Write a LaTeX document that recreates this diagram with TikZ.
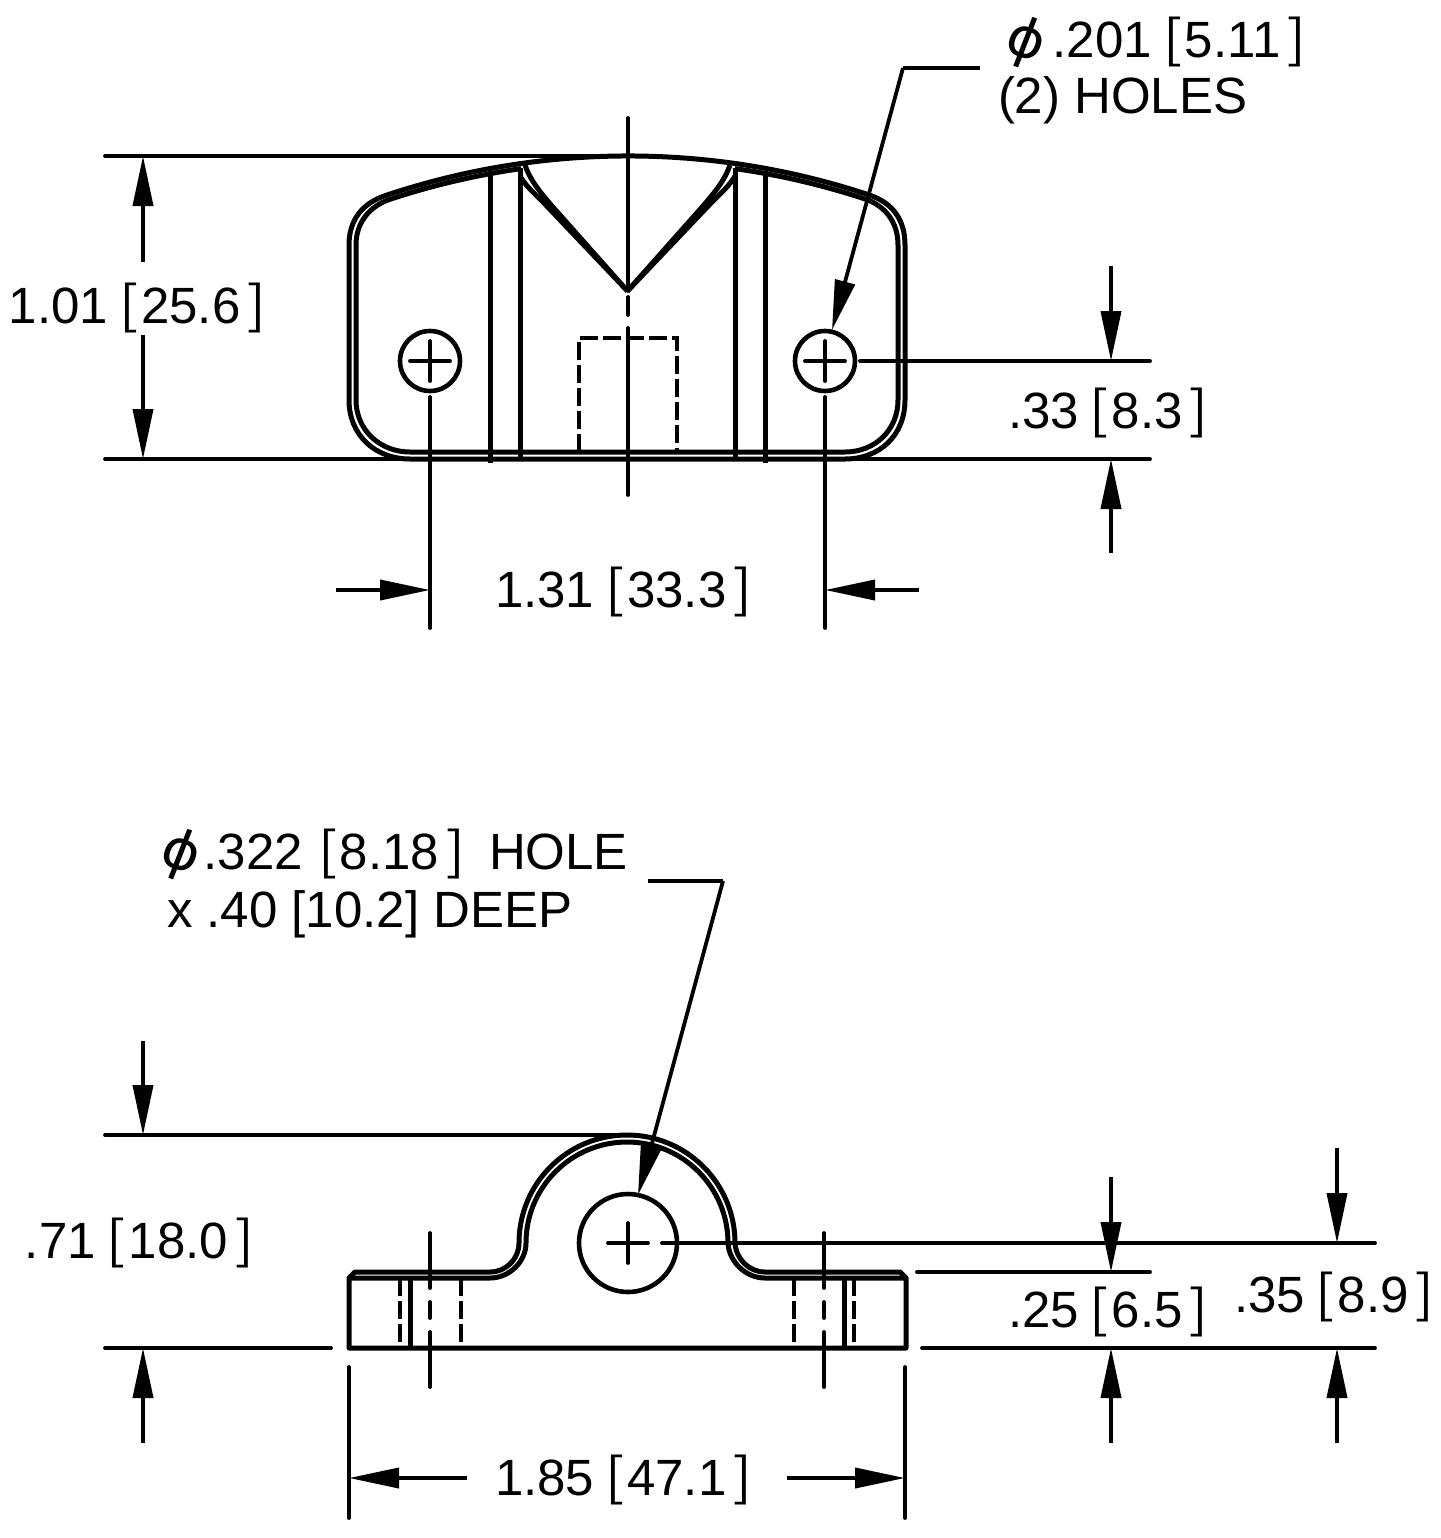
\documentclass[tikz,border=0pt]{standalone}
\usepackage{fontspec}
\usepackage{graphicx}
\setmainfont{Liberation Sans}
\newfontfamily\lmbr{Latin Modern Roman}
\newfontfamily\djv{DejaVu Sans}
\usetikzlibrary{arrows.meta}
\newcommand{\lbr}{\hspace{4pt}\raisebox{1.5pt}{\scalebox{1.4}[1]{\lmbr\bfseries\fontsize{25}{25}\selectfont[}}\hspace{1.5pt}}
\newcommand{\rbr}{\hspace{3.5pt}\raisebox{1.5pt}{\scalebox{1.4}[1]{\lmbr\bfseries\fontsize{25}{25}\selectfont]}}}
\newcommand{\dia}{\scalebox{1.2}[1.12]{\rotatebox[origin=c]{-20}{\djv\fontsize{24}{25}\selectfont ϕ}}}
\tikzset{
  px/.style={x=0.5pt,y=-0.5pt},
  thickl/.style={line width=2.5pt,line cap=butt,line join=round},
  thinl/.style={line width=1.9pt,line cap=round},
  hidden/.style={line width=2.1pt,dash pattern=on 9pt off 2.5pt},
  dimarrow/.style={line width=1.9pt,-{Triangle[length=25pt,width=10pt]}},
  lab/.style={anchor=base west,inner sep=0pt,outer sep=0pt,font=\fontsize{25.5}{30}\selectfont},
  hole/.style={circle,draw,line width=2.3pt,inner sep=0pt,minimum size=30pt},
  bighole/.style={circle,draw,line width=2.3pt,inner sep=0pt,minimum size=49pt},
}
\begin{document}
\begin{tikzpicture}[px]
\useasboundingbox (0,0) rectangle (1441,1538);
% ---------- TOP VIEW
% profile
\draw[thickl] (349,245) .. controls (349,220) and (362,203) .. (387,195)
  arc [start angle=251.6,end angle=288.4,radius=764]
  .. controls (893,203) and (905,220) .. (905,245) -- (905,400)
  .. controls (905,435) and (880,459) .. (845,459) -- (410,459)
  .. controls (375,459) and (349,435) .. (349,400) -- cycle;
\draw[thickl] (356,245) .. controls (356,222) and (370,206) .. (390,199.3)
  arc [start angle=251.73,end angle=261.9,radius=759];
\draw[thickl] (735,168.6) arc [start angle=278.1,end angle=288.27,radius=759]
  .. controls (885,206) and (898,222) .. (898,245) -- (898,400)
  .. controls (898,430) and (875,452) .. (845,452) -- (410,452)
  .. controls (380,452) and (356,430) .. (356,400) -- (356,245);
% vertical edges
\draw[thickl] (490,171) -- (490,463);
\draw[thickl] (520,168) -- (520,457);
\draw[thickl] (735,168) -- (735,457);
\draw[thickl] (765,171) -- (765,463);
% V notch
\coordinate (apex) at (627.5,291);
\draw[thickl] (525,165) .. controls (530,180) and (540,192) .. (552,206) -- (apex);
\draw[thickl] (520,176) .. controls (525,185) and (533,192) .. (542,201) -- (apex);
\draw[thickl] (730,165) .. controls (725,180) and (715,192) .. (703,206) -- (apex);
\draw[thickl] (735,176) .. controls (730,185) and (722,192) .. (713,201) -- (apex);
% hidden pocket
\draw[hidden] (579,452) -- (579,338) -- (677,338) -- (677,452);
% holes
\node[hole] (h1) at (430,361) {};
\node[hole] (h2) at (825,361) {};
\draw[thinl] (410,361) -- (450,361) (430,341) -- (430,381);
\draw[thinl] (805,361) -- (845,361) (825,341) -- (825,381);
% centreline
\draw[thinl] (628,118) -- (628,291) (628,297) -- (628,315) (628,328) -- (628,495);
% extension lines
\draw[thinl] (105,156) -- (628,156);
\draw[thinl] (105,459) -- (1150,459);
\draw[thinl] (860,361) -- (1150,361);
\draw[thinl] (430,397) -- (430,628);
\draw[thinl] (825,397) -- (825,628);
% dimensions
\coordinate (a1) at (143,262); \coordinate (a1t) at (143,156);
\coordinate (a2) at (143,335); \coordinate (a2t) at (143,459);
\draw[dimarrow] (a1) -- (a1t);
\draw[dimarrow] (a2) -- (a2t);
\coordinate (b1) at (1111,266); \coordinate (b1t) at (1111,361);
\coordinate (b2) at (1111,553); \coordinate (b2t) at (1111,459);
\draw[dimarrow] (b1) -- (b1t);
\draw[dimarrow] (b2) -- (b2t);
\coordinate (c1) at (336,590); \coordinate (c1t) at (430,590);
\coordinate (c2) at (919,590); \coordinate (c2t) at (825,590);
\draw[dimarrow] (c1) -- (c1t);
\draw[dimarrow] (c2) -- (c2t);
% leader 1
\coordinate (l1a) at (980,68); \coordinate (l1b) at (903,68); \coordinate (l1c) at (832,330);
\draw[thinl,line cap=butt] (l1a) -- (l1b);
\draw[dimarrow] (l1b) -- (l1c);
% top labels
\node[lab] (t1) at (998,57) {\dia\hspace{0pt}.201\lbr 5.11\rbr};
\node[lab] (t2) at (998,113) {(2) HOLES};
\node[lab] (t3) at (9,323) {1.01\lbr 25.6\rbr};
\node[lab] (t4) at (1008,428) {.33\lbr 8.3\rbr};
\node[lab] (t5) at (495,607) {1.31\lbr 33.3\rbr};
% ---------- BOTTOM VIEW
\coordinate (cc) at (628,1243);
\draw[thickl] (349,1348) -- (349,1278) -- (355,1272) -- (490,1272)
  .. controls (506,1272) and (519,1259) .. (519,1243)
  arc [start angle=180,end angle=360,radius=108]
  .. controls (736,1259) and (749,1272) .. (765,1272)
  -- (900,1272) -- (906,1278) -- (906,1348) -- cycle;
\draw[thickl] (349,1278) -- (490,1278)
  .. controls (509,1278) and (526,1262) .. (526,1243)
  arc [start angle=180,end angle=360,radius=101]
  .. controls (729,1262) and (746,1278) .. (765,1278) -- (906,1278);
\node[bighole] (h3) at (cc) {};
\draw[thinl] (608,1243) -- (648,1243) (628,1223) -- (628,1263);
% flange holes
\draw[hidden] (400,1278) -- (400,1348);
\draw[hidden] (461,1278) -- (461,1348);
\draw[hidden] (794,1278) -- (794,1348);
\draw[hidden] (854,1278) -- (854,1348);
\draw[thickl] (410,1278) -- (410,1348);
\draw[thickl] (844,1278) -- (844,1348);
% centrelines
\draw[thinl] (430,1233) -- (430,1288) (430,1302) -- (430,1318) (430,1332) -- (430,1387);
\draw[thinl] (824,1233) -- (824,1288) (824,1302) -- (824,1318) (824,1332) -- (824,1387);
% extension lines
\draw[thinl] (105,1135) -- (628,1135);
\draw[thinl] (105,1348) -- (331,1348);
\draw[thinl] (922,1348) -- (1375,1348);
\draw[thinl] (917,1272) -- (1150,1272);
\draw[thinl] (662,1243) -- (1375,1243);
\draw[thinl] (349,1367) -- (349,1518);
\draw[thinl] (905,1367) -- (905,1518);
% dimensions
\coordinate (d1) at (143,1041); \coordinate (d1t) at (143,1135);
\coordinate (d2) at (143,1443); \coordinate (d2t) at (143,1348);
\draw[dimarrow] (d1) -- (d1t);
\draw[dimarrow] (d2) -- (d2t);
\coordinate (e1) at (1111,1177); \coordinate (e1t) at (1111,1272);
\coordinate (e2) at (1111,1443); \coordinate (e2t) at (1111,1348);
\draw[dimarrow] (e1) -- (e1t);
\draw[dimarrow] (e2) -- (e2t);
\coordinate (f1) at (1337,1148); \coordinate (f1t) at (1337,1243);
\coordinate (f2) at (1337,1443); \coordinate (f2t) at (1337,1348);
\draw[dimarrow] (f1) -- (f1t);
\draw[dimarrow] (f2) -- (f2t);
\coordinate (g1) at (467,1478); \coordinate (g1t) at (349,1478);
\coordinate (g2) at (787,1478); \coordinate (g2t) at (905,1478);
\draw[dimarrow] (g1) -- (g1t);
\draw[dimarrow] (g2) -- (g2t);
% leader 2
\coordinate (l2a) at (648,881); \coordinate (l2b) at (723,881); \coordinate (l2c) at (638,1195);
\draw[thinl,line cap=butt] (l2a) -- (l2b);
\draw[dimarrow] (l2b) -- (l2c);
% bottom labels
\node[lab] (u1) at (153,869) {\dia\hspace{-2pt}.322\hspace{2pt}\lbr 8.18\rbr\hspace{10.5pt}HOLE};
\node[lab] (u2) at (167,927) {x .40 [10.2] DEEP};
\node[lab] (u3) at (25,1258) {.71\lbr 18.0\rbr};
\node[lab] (u4) at (1008,1327) {.25\lbr 6.5\rbr};
\node[lab] (u5) at (1234,1312) {.35\lbr 8.9\rbr};
\node[lab] (u6) at (495,1495) {1.85\lbr 47.1\rbr};
\end{tikzpicture}
\end{document}
